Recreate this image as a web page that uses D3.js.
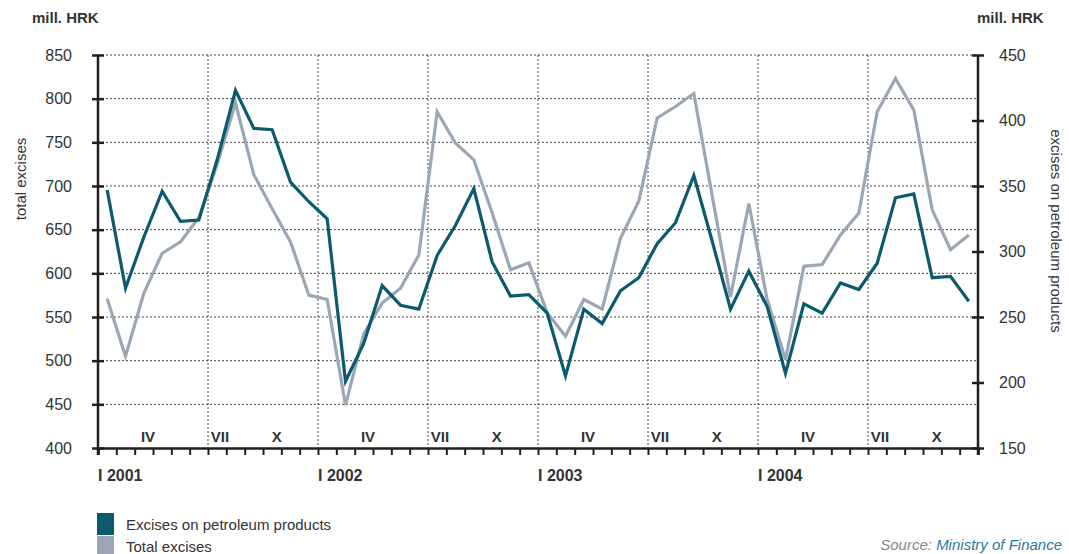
<!DOCTYPE html>
<html>
<head>
<meta charset="utf-8">
<script src="https://cdn.jsdelivr.net/npm/d3@7"></script>
<style>
  html, body { margin: 0; padding: 0; background: #fff; }
  svg { display: block; font-family: "Liberation Sans", Arial, sans-serif; }
</style>
</head>
<body>
<svg id="chart" width="1069" height="554"></svg>
<script>
// Monthly excise revenue, January 2001 – December 2004 (mill. HRK)
const years = [2001, 2002, 2003, 2004];
const monthLabels = [
  { label: "IV", pos: 2.73 },
  { label: "VII", pos: 6.65 },
  { label: "X", pos: 9.75 }
];
const leftTicks = [400, 450, 500, 550, 600, 650, 700, 750, 800, 850];
const rightTicks = [150, 200, 250, 300, 350, 400, 450];

// Excises on petroleum products (right axis)
const petroleum = [
  347, 272, 311, 346, 323, 324, 370, 423, 394, 393, 353, 338,
  325, 201, 230, 274, 259, 256, 297, 320, 348, 292, 266, 267,
  253, 205, 256, 245, 270, 280, 306, 322, 358, 308, 256, 285,
  258, 207, 260, 253, 276, 271, 291, 341, 344, 280, 281, 262
];
// Total excises (left axis)
const total = [
  571, 505, 577, 623, 636, 664, 725, 795, 713, 674, 636, 575,
  570, 449, 531, 566, 583, 621, 785, 749, 730, 669, 604, 612,
  555, 528, 570, 559, 640, 683, 778, 791, 806, 689, 573, 680,
  570, 501, 608, 610, 644, 669, 785, 823, 787, 673, 627, 644
];

const seriesNames = ["Excises on petroleum products", "Total excises"];
const colors = { petroleum: "#0c5a6e", total: "#9ba7b4" };

const svg = d3.select("#chart");
const plot = { left: 98, right: 978, top: 55, bottom: 448 };
const nMonths = petroleum.length;

// x is measured in months from January 2001; points sit mid-month
const x = d3.scaleLinear().domain([0, nMonths]).range([plot.left, plot.right]);
const yL = d3.scaleLinear().domain([400, 850]).range([plot.bottom, plot.top]);
const yR = d3.scaleLinear().domain([150, 450]).range([plot.bottom, plot.top]);

const textColor = "#333";
const axisColor = "#231f20";

// horizontal dotted grid
svg.append("g")
  .selectAll("line")
  .data(leftTicks.filter(d => d > 400))
  .join("line")
  .attr("x1", plot.left).attr("x2", plot.right)
  .attr("y1", d => yL(d)).attr("y2", d => yL(d))
  .attr("stroke", "#444").attr("stroke-width", 1)
  .attr("stroke-dasharray", "2,2");

// vertical dotted grid every half year
svg.append("g")
  .selectAll("line")
  .data(d3.range(6, nMonths, 6))
  .join("line")
  .attr("x1", d => x(d)).attr("x2", d => x(d))
  .attr("y1", plot.top).attr("y2", plot.bottom)
  .attr("stroke", "#444").attr("stroke-width", 1)
  .attr("stroke-dasharray", "2,2");

// left axis
const gL = svg.append("g").attr("transform", `translate(${plot.left},0)`)
  .call(d3.axisLeft(yL).tickValues(leftTicks).tickSize(6).tickPadding(20).tickSizeOuter(0));
gL.select(".domain").remove();
gL.selectAll(".tick line").attr("x1", 6).attr("x2", -6)
  .attr("stroke", axisColor).attr("stroke-width", 2.5);
gL.selectAll(".tick text").attr("font-size", 16).attr("fill", textColor)
  .attr("font-family", "Liberation Sans, Arial, sans-serif");
svg.append("line").attr("x1", plot.left).attr("x2", plot.left)
  .attr("y1", plot.top).attr("y2", plot.bottom + 7)
  .attr("stroke", axisColor).attr("stroke-width", 2.5);

// right axis
const gR = svg.append("g").attr("transform", `translate(${plot.right},0)`)
  .call(d3.axisRight(yR).tickValues(rightTicks).tickSize(6).tickPadding(15).tickSizeOuter(0));
gR.select(".domain").remove();
gR.selectAll(".tick line").attr("x1", -6).attr("x2", 6)
  .attr("stroke", axisColor).attr("stroke-width", 2.5);
gR.selectAll(".tick text").attr("font-size", 16).attr("fill", textColor)
  .attr("font-family", "Liberation Sans, Arial, sans-serif");
svg.append("line").attr("x1", plot.right).attr("x2", plot.right)
  .attr("y1", plot.top).attr("y2", plot.bottom + 7)
  .attr("stroke", axisColor).attr("stroke-width", 2.5);

// bottom axis with a tick at every month boundary
const gX = svg.append("g").attr("transform", `translate(0,${plot.bottom})`)
  .call(d3.axisBottom(x).tickValues(d3.range(0, nMonths + 1)).tickSize(7).tickFormat(""));
gX.select(".domain").attr("stroke", axisColor).attr("stroke-width", 2.5);
gX.selectAll(".tick line").attr("stroke", axisColor).attr("stroke-width", 2);

// quarter month labels inside the plot, year labels below it
years.forEach((yr, i) => {
  monthLabels.forEach(m => {
    svg.append("text")
      .attr("x", x(i * 12 + m.pos)).attr("y", 441.5)
      .attr("text-anchor", "middle")
      .attr("font-size", 15).attr("font-weight", "bold")
      .attr("fill", textColor)
      .text(m.label);
  });
  svg.append("text")
    .attr("x", x(i * 12)).attr("y", 481)
    .attr("font-size", 16).attr("font-weight", "bold")
    .attr("fill", textColor)
    .text("I " + yr);
});

// unit labels
svg.append("text").attr("x", 32).attr("y", 23)
  .attr("font-size", 15).attr("font-weight", "bold").attr("fill", textColor)
  .text("mill. HRK");
svg.append("text").attr("x", 977).attr("y", 23)
  .attr("font-size", 15).attr("font-weight", "bold").attr("fill", textColor)
  .text("mill. HRK");

// axis titles
svg.append("text")
  .attr("transform", "translate(26,179) rotate(-90)")
  .attr("text-anchor", "middle")
  .attr("font-size", 15).attr("fill", textColor)
  .text("total excises");
svg.append("text")
  .attr("transform", "translate(1051,231) rotate(90)")
  .attr("text-anchor", "middle")
  .attr("font-size", 15).attr("fill", textColor)
  .text("excises on petroleum products");

// data lines
const lineL = d3.line().x((d, i) => x(i + 0.5)).y(d => yL(d));
const lineR = d3.line().x((d, i) => x(i + 0.5)).y(d => yR(d));

svg.append("path").datum(total)
  .attr("d", lineL).attr("fill", "none")
  .attr("stroke", colors.total).attr("stroke-width", 3.2)
  .attr("stroke-linejoin", "miter");
svg.append("path").datum(petroleum)
  .attr("d", lineR).attr("fill", "none")
  .attr("stroke", colors.petroleum).attr("stroke-width", 3.2)
  .attr("stroke-linejoin", "miter");

// legend
const legend = svg.append("g");
[colors.petroleum, colors.total].forEach((c, i) => {
  legend.append("rect")
    .attr("x", 97).attr("y", 513 + i * 23)
    .attr("width", 17).attr("height", 22)
    .attr("fill", c);
  legend.append("text")
    .attr("x", 126).attr("y", 530 + i * 22)
    .attr("font-size", 15).attr("fill", textColor)
    .text(seriesNames[i]);
});

// source note
const src = svg.append("text")
  .attr("x", 1062).attr("y", 550)
  .attr("text-anchor", "end")
  .attr("font-size", 15).attr("font-style", "italic");
src.append("tspan").attr("fill", "#888").text("Source: ");
src.append("tspan").attr("fill", "#2b7a98").text("Ministry of Finance");
</script>
</body>
</html>
